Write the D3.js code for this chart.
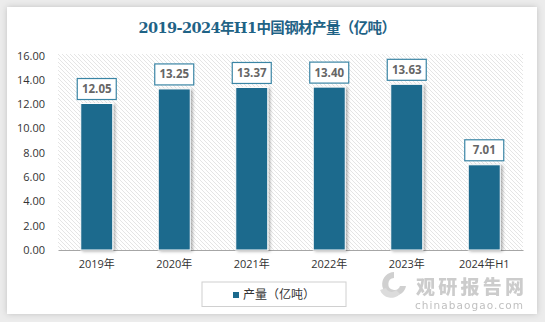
<!DOCTYPE html>
<html><head><meta charset="utf-8">
<script src="https://cdn.jsdelivr.net/npm/d3@7/dist/d3.min.js"></script>
<style>
body{margin:0;padding:0;background:#ececec;}
svg{display:block;}
</style></head><body>
<script>
const categories = ["2019年","2020年","2021年","2022年","2023年","2024年H1"];
const values = [12.05,13.25,13.37,13.40,13.63,7.01];
const yTicks = [0,2,4,6,8,10,12,14,16];
const seriesName = "产量（亿吨）";
const title = "2019-2024年H1中国钢材产量（亿吨）";

(function(){
const W=545,H=322;
const svg=d3.select("body").append("svg").attr("width",W).attr("height",H);
const defs=svg.append("defs");
const pat=defs.append("pattern").attr("id","hatch").attr("patternUnits","userSpaceOnUse")
  .attr("width",4).attr("height",4);
pat.append("rect").attr("width",4).attr("height",4).attr("fill","#ffffff");
pat.append("path").attr("d","M-1,-1 L5,5 M-1,3 L1,5 M3,-1 L5,1").attr("stroke","#e2e2e2").attr("stroke-width",0.9);
const cardF=defs.append("filter").attr("id","cardsh").attr("x","-5%").attr("y","-5%").attr("width","110%").attr("height","110%");
cardF.append("feDropShadow").attr("dx",0).attr("dy",0).attr("stdDeviation",3).attr("flood-color","#000").attr("flood-opacity",0.18);
const barF=defs.append("filter").attr("id","barsh").attr("x","-20%").attr("y","-10%").attr("width","160%").attr("height","130%");
barF.append("feDropShadow").attr("dx",2).attr("dy",1).attr("stdDeviation",1.6).attr("flood-color","#000").attr("flood-opacity",0.3);

svg.append("rect").attr("x",7).attr("y",7).attr("width",530).attr("height",307).attr("fill","#fff").attr("filter","url(#cardsh)");

svg.append("text").attr("x",267).attr("y",33).attr("text-anchor","middle")
  .attr("font-family","'DejaVu Serif','Noto Sans CJK SC',serif").attr("font-weight","bold")
  .attr("font-size",14.5).attr("fill","#1f6386").attr("letter-spacing",-0.6).text(title);

const pL=58,pR=523,pT=54,pB=250;
const x=d3.scaleBand().domain(categories).range([pL,pR]).paddingInner(0.587).paddingOuter(0.2935);
const y=d3.scaleLinear().domain([0,16]).range([pB,55.5]);

svg.append("rect").attr("x",pL).attr("y",pT).attr("width",pR-pL).attr("height",pB-pT).attr("fill","url(#hatch)");

const yAxis=d3.axisLeft(y).tickValues(yTicks).tickFormat(d3.format(".2f")).tickSize(0).tickPadding(13);
const ga=svg.append("g").attr("transform",`translate(${pL},0)`).call(yAxis);
ga.select(".domain").remove();
ga.selectAll("text").attr("font-family","'Open Sans','Liberation Sans',sans-serif").attr("font-size",11).attr("fill","#333");

const xAxis=d3.axisBottom(x).tickSize(0).tickPadding(10);
const gx=svg.append("g").attr("transform",`translate(0,${pB})`).call(xAxis);
gx.select(".domain").attr("stroke","#a6a6a6").attr("stroke-width",1.2);
gx.selectAll("text").attr("font-family","'Open Sans','Noto Sans CJK SC',sans-serif").attr("font-size",11).attr("fill","#333");

const color="#1c6a8d";
svg.append("g").selectAll("rect").data(values).join("rect")
  .attr("x",(d,i)=>x(categories[i])).attr("y",d=>y(d)).attr("width",x.bandwidth()).attr("height",d=>pB-y(d))
  .attr("fill",color).attr("stroke","#fff").attr("stroke-width",1).attr("filter","url(#barsh)");

const lg=svg.append("g");
values.forEach((v,i)=>{
  const cx=x(categories[i])+x.bandwidth()/2;
  const by=y(v)-4;
  lg.append("rect").attr("x",cx-19.5).attr("y",by-21).attr("width",39).attr("height",21)
    .attr("fill","#fff").attr("stroke","#3a85a5").attr("stroke-width",1.2);
  lg.append("text").attr("x",cx).attr("y",by-6.5).attr("text-anchor","middle")
    .attr("font-family","'Open Sans','Liberation Sans',sans-serif").attr("font-weight","bold").attr("font-size",11.5)
    .attr("fill","#666").text(d3.format(".2f")(v));
});

const wm=svg.append("g").attr("opacity",0.85);
wm.append("path").attr("d","M394,272 a12,12 0 1,0 12,14 l-6,0 a6,6 0 1,1 -6,-8 z").attr("fill","#c8c8c8");
wm.append("path").attr("d","M380,290 a12,12 0 0,0 20,4 l-4,-4 a6,6 0 0,1 -10,-2 z").attr("fill","#d6d6d6");
wm.append("text").attr("x",416).attr("y",294).attr("font-family","'Noto Sans CJK SC',sans-serif").attr("font-weight","900")
  .attr("font-size",19).attr("fill","#c4c4c4").attr("textLength",108).text("观研报告网");
wm.append("text").attr("x",415).attr("y",309).attr("font-family","'DejaVu Sans',sans-serif")
  .attr("font-size",10.5).attr("fill","#b5b5b5").attr("textLength",108).text("chinabaogao.com");

const leg=svg.append("g");
leg.append("rect").attr("x",202).attr("y",282).attr("width",144).attr("height",24.5).attr("fill","#fff").attr("stroke","#d0d0d0");
leg.append("rect").attr("x",233).attr("y",292).attr("width",6).attr("height",6).attr("fill",color);
leg.append("text").attr("x",243).attr("y",299).attr("font-family","'Noto Sans CJK SC',sans-serif").attr("font-size",12)
  .attr("fill","#333").text(seriesName);
})();
</script>
</body></html>
